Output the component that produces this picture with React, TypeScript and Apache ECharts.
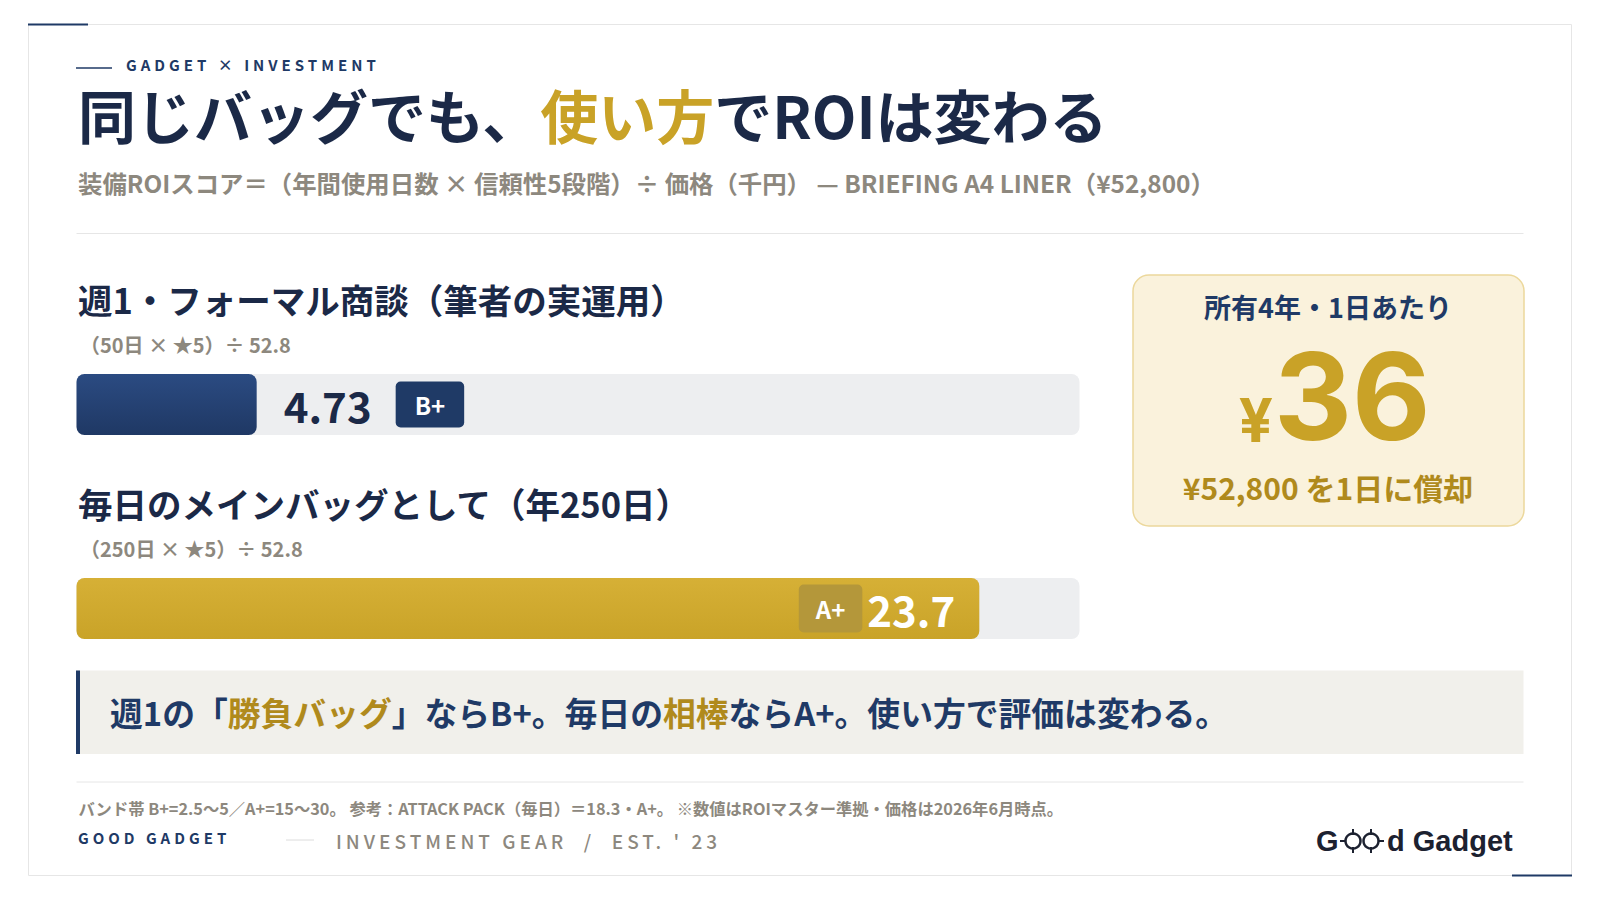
import React, { useEffect, useRef } from "react";
import * as echarts from "echarts";

// ---- data ----
const categories = ["週1・フォーマル商談（筆者の実運用）", "毎日のメインバッグとして（年250日）"];
const formulas = ["（50日 × ★5）÷ 52.8", "（250日 × ★5）÷ 52.8"];
const roiValues = [4.73, 23.7];
const grades = ["B+", "A+"];
const axisMax = 26.33;

const kicker = "GADGET × INVESTMENT";
const titleParts = ["同じバッグでも、", "使い方", "でROIは変わる"];
const subtitle = "装備ROIスコア＝（年間使用日数 × 信頼性5段階）÷ 価格（千円） — BRIEFING A4 LINER（¥52,800）";
const boxLabel = "所有4年・1日あたり";
const perDayYen = "36";
const boxNote = "¥52,800 を1日に償却";
const calloutParts = ["週1の「", "勝負バッグ", "」ならB+。毎日の", "相棒", "ならA+。使い方で評価は変わる。"];
const footnote = "バンド帯 B+=2.5〜5／A+=15〜30。 参考：ATTACK PACK（毎日）＝18.3・A+。 ※数値はROIマスター準拠・価格は2026年6月時点。";
const brandLeft = "GOOD GADGET";
const brandTag = "INVESTMENT GEAR  /  EST. ' 23";

// ---- styles ----
const JP = '"Noto Sans CJK JP", "Noto Sans", sans-serif';
const NAVY = "#1f3a66";
const INK = "#1b2947";
const GRAY = "#8d887e";
const GOLD = "#c9a227";
const GOLD_DK = "#b08a1c";

const BAR_LEFT = 76.5;
const BAR_W = 1003;
const BAR_H = 61;
const barTops = [374, 578];
const barGradients = [
  ["#2b4b82", "#1f3864"],
  ["#d6b036", "#c9a328"],
];

const spaced: Record<string, string> = {
  [kicker]: "4px",
  [brandLeft]: "4px",
  [brandTag]: "4px",
};

function txt(x: number, y: number, text: string, size: number, color: string, weight: any = 700, align = "left", family = JP, extra: any = {}) {
  return {
    type: "text",
    x,
    y,
    z: 10,
    style: {
      text,
      fontSize: size,
      fontWeight: weight,
      fontFamily: family,
      fill: color,
      align,
      textAlign: align,
      verticalAlign: "middle",
      textVerticalAlign: "middle",
      ...extra,
    },
  };
}

function line(x1: number, y1: number, x2: number, y2: number, color: string, w: number) {
  return { type: "line", z: 5, shape: { x1, y1, x2, y2 }, style: { stroke: color, lineWidth: w } };
}

export default function App() {
  const ref = useRef<HTMLDivElement>(null);

  useEffect(() => {
    if (!ref.current) return;
    const chart = echarts.init(ref.current, undefined, { renderer: "svg" });

    const grids = barTops.map((t) => ({ left: BAR_LEFT, top: t, width: BAR_W, height: BAR_H, containLabel: false }));
    const xAxes = barTops.map((_, i) => ({ type: "value", gridIndex: i, min: 0, max: axisMax, show: false }));
    const yAxes = barTops.map((_, i) => ({ type: "category", gridIndex: i, data: [categories[i]], show: false }));

    const series = roiValues.map((v, i) => {
      const inside = v / axisMax > 0.5;
      const [c0, c1] = barGradients[i];
      return {
        type: "bar",
        xAxisIndex: i,
        yAxisIndex: i,
        data: [v],
        barWidth: BAR_H,
        showBackground: true,
        backgroundStyle: { color: "#edeef0", borderRadius: 8 },
        itemStyle: {
          borderRadius: 8,
          color: new echarts.graphic.LinearGradient(0, 0, 0, 1, [
            { offset: 0, color: c0 },
            { offset: 1, color: c1 },
          ]),
        },
        label: inside
          ? {
              show: true,
              position: "insideRight",
              distance: 24,
              formatter: () => `{b|${grades[i]}}{s| }{v|${v}}`,
              rich: {
                b: { backgroundColor: "#b4973a", color: "#ffffff", fontSize: 24, fontWeight: 700, fontFamily: JP, padding: [12, 17, 12, 17], borderRadius: 5 },
                s: { width: 5 },
                v: { color: "#ffffff", fontSize: 42, fontWeight: 700, fontFamily: JP },
              },
            }
          : {
              show: true,
              position: "right",
              distance: 27,
              formatter: () => `{v|${v}}{s| }{b|${grades[i]}}`,
              rich: {
                v: { color: INK, fontSize: 42, fontWeight: 700, fontFamily: JP },
                s: { width: 24 },
                b: { backgroundColor: NAVY, color: "#ffffff", fontSize: 24, fontWeight: 700, fontFamily: JP, padding: [11, 19, 11, 19], borderRadius: 5 },
              },
            },
      };
    });

    const sectionTexts: any[] = [];
    categories.forEach((c, i) => {
      sectionTexts.push(txt(78, barTops[i] - 75, c, 34.5, INK, 700));
      sectionTexts.push(txt(80, barTops[i] - 30, formulas[i], 20, GRAY, 700));
    });

    const graphic: any[] = [
      // card
      { type: "rect", z: 0, shape: { x: 28.5, y: 24.5, width: 1543, height: 851 }, style: { fill: "#ffffff", stroke: "#e6e6e6", lineWidth: 1 } },
      line(28, 24.5, 88, 24.5, NAVY, 2),
      line(1512, 875.5, 1572, 875.5, NAVY, 2),
      // header
      line(76, 68, 112, 68, NAVY, 1.5),
      txt(126, 64.5, kicker, 15, NAVY, 700),
      {
        type: "text",
        x: 78,
        y: 114,
        z: 10,
        style: {
          text: `{a|${titleParts[0]}}{g|${titleParts[1]}}{a|${titleParts[2]}}`,
          fontSize: 58,
          fontWeight: 700,
          fontFamily: JP,
          fill: INK,
          verticalAlign: "middle",
          textVerticalAlign: "middle",
          rich: {
            a: { fontSize: 58, fontWeight: 700, fontFamily: JP, fill: INK, color: INK },
            g: { fontSize: 58, fontWeight: 700, fontFamily: JP, fill: GOLD, color: GOLD },
          },
        },
      },
      txt(78, 182, subtitle, 24.4, GRAY, 700),
      line(76.5, 233.5, 1523.5, 233.5, "#e6e6e6", 1),
      ...sectionTexts,
      // right box
      { type: "rect", z: 5, shape: { x: 1133, y: 275, width: 391, height: 251, r: 16 }, style: { fill: "#faf2dc", stroke: "#ecd89c", lineWidth: 1.5 } },
      txt(1328, 306, boxLabel, 27, NAVY, 700, "center"),
      txt(1273, 420, "¥", 60, GOLD, 700, "right", "Inter, 'Liberation Sans', sans-serif"),
      txt(1274, 396, perDayYen, 121, GOLD, 700, "left", "Inter, 'Liberation Sans', sans-serif"),
      txt(1328, 487, boxNote, 30, GOLD_DK, 700, "center"),
      // callout
      { type: "rect", z: 5, shape: { x: 76.5, y: 670.5, width: 1447, height: 83.5 }, style: { fill: "#f1f0eb" } },
      { type: "rect", z: 6, shape: { x: 76, y: 670.5, width: 4, height: 83.5 }, style: { fill: NAVY } },
      {
        type: "text",
        x: 110,
        y: 711,
        z: 10,
        style: {
          text: calloutParts.map((p, i) => (i % 2 === 1 ? `{g|${p}}` : `{n|${p}}`)).join(""),
          fontSize: 32.8,
          fontWeight: 700,
          fontFamily: JP,
          fill: NAVY,
          verticalAlign: "middle",
          textVerticalAlign: "middle",
          rich: {
            n: { fontSize: 32.8, fontWeight: 700, fontFamily: JP, fill: NAVY, color: NAVY },
            g: { fontSize: 32.8, fontWeight: 700, fontFamily: JP, fill: GOLD_DK, color: GOLD_DK },
          },
        },
      },
      line(76.5, 782, 1523.5, 782, "#e6e6e6", 1),
      txt(78.5, 807.5, footnote, 16.3, GRAY, 700),
      txt(78, 837, brandLeft, 15, NAVY, 700),
      line(286, 840, 314, 840, "#dcdcdc", 1),
      txt(336, 840, brandTag, 19, GRAY, 500),
      // logo
      txt(1316, 841, "G", 29, "#1c2130", 700, "left", "'Liberation Sans', Arial, sans-serif"),
      { type: "circle", z: 10, shape: { cx: 1353, cy: 841, r: 7.5 }, style: { fill: "none", stroke: "#1c2130", lineWidth: 2.5 } },
      { type: "circle", z: 10, shape: { cx: 1371, cy: 841, r: 7.5 }, style: { fill: "none", stroke: "#1c2130", lineWidth: 2.5 } },
      line(1353, 829, 1353, 835, "#1c2130", 2),
      line(1353, 847, 1353, 853, "#1c2130", 2),
      line(1371, 829, 1371, 835, "#1c2130", 2),
      line(1371, 847, 1371, 853, "#1c2130", 2),
      line(1340, 841, 1346, 841, "#1c2130", 2),
      line(1378, 841, 1384, 841, "#1c2130", 2),
      txt(1387, 841, "d Gadget", 29, "#1c2130", 700, "left", "'Liberation Sans', Arial, sans-serif"),
    ];

    chart.setOption({
      animation: false,
      backgroundColor: "#ffffff",
      grid: grids,
      xAxis: xAxes,
      yAxis: yAxes,
      series,
      graphic: { elements: graphic },
    });

    // letter-spaced small caps labels (SVG text attribute)
    const applySpacing = () => {
      if (!ref.current) return;
      ref.current.querySelectorAll("text").forEach((t) => {
        const s = spaced[(t.textContent || "").trim()] ?? spaced[t.textContent || ""];
        if (s) t.setAttribute("letter-spacing", s);
      });
    };
    applySpacing();
    chart.on("finished", applySpacing);

    return () => chart.dispose();
  }, []);

  return <div ref={ref} style={{ position: "fixed", left: 0, top: 0, width: 1600, height: 900 }} />;
}
